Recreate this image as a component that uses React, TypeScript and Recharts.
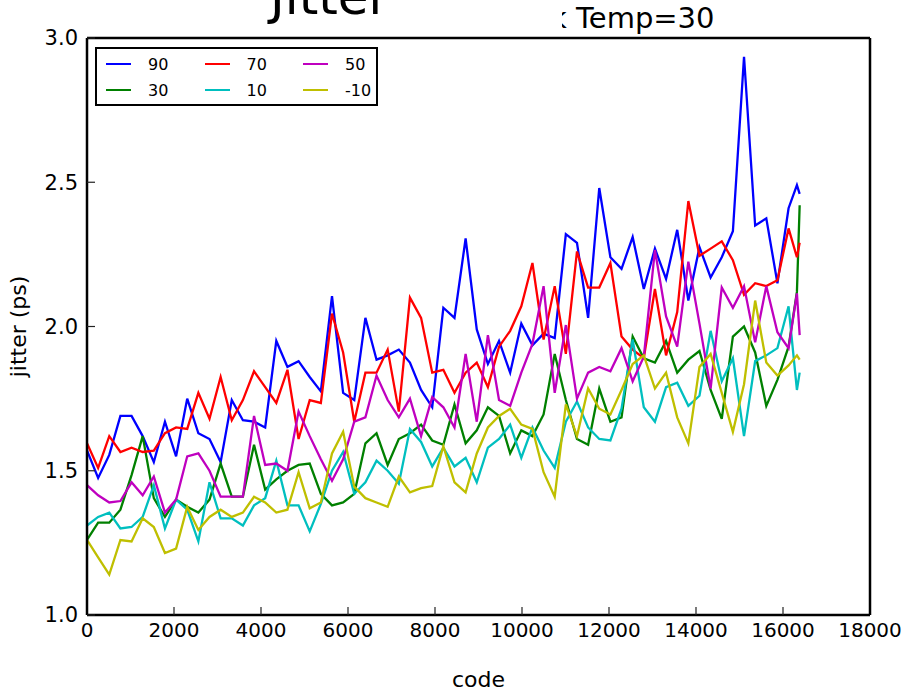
import { LineChart, Line, XAxis, YAxis, Legend } from "recharts";

// code values on the x axis
const codes = [
  0, 256, 512, 768, 1024, 1280, 1536, 1792, 2048, 2304, 2560, 2816, 3072,
  3328, 3584, 3840, 4096, 4352, 4608, 4864, 5120, 5376, 5632, 5888, 6144,
  6400, 6656, 6912, 7168, 7424, 7680, 7936, 8192, 8448, 8704, 8960, 9216,
  9472, 9728, 9984, 10240, 10496, 10752, 11008, 11264, 11520, 11776, 12032,
  12288, 12544, 12800, 13056, 13312, 13568, 13824, 14080, 14336, 14592,
  14848, 15104, 15360, 15616, 15872, 16128, 16320, 16383,
];

const temp90 = [
  1.57, 1.475, 1.555, 1.69, 1.69, 1.62, 1.53, 1.67, 1.55, 1.75,
  1.63, 1.61, 1.53, 1.745, 1.675, 1.67, 1.65, 1.95, 1.86, 1.88,
  1.825, 1.775, 2.105, 1.77, 1.745, 2.03, 1.885, 1.9, 1.92, 1.875,
  1.78, 1.72, 2.065, 2.03, 2.305, 1.99, 1.87, 1.95, 1.84, 2.01,
  1.935, 1.975, 1.96, 2.32, 2.29, 2.03, 2.48, 2.24, 2.2, 2.31,
  2.13, 2.27, 2.165, 2.335, 2.09, 2.275, 2.17, 2.24, 2.33, 2.935,
  2.35, 2.375, 2.15, 2.41, 2.49, 2.46,
];
const temp70 = [
  1.595, 1.51, 1.62, 1.565, 1.58, 1.565, 1.57, 1.63, 1.65, 1.645,
  1.77, 1.68, 1.825, 1.675, 1.745, 1.845, 1.79, 1.735, 1.85, 1.61,
  1.745, 1.735, 2.045, 1.91, 1.67, 1.84, 1.84, 1.92, 1.705, 2.1,
  2.03, 1.84, 1.85, 1.77, 1.84, 1.875, 1.79, 1.93, 1.985, 2.07,
  2.22, 1.955, 2.14, 1.905, 2.26, 2.135, 2.135, 2.22, 1.965, 1.92,
  1.89, 2.13, 1.9, 2.05, 2.435, 2.245, 2.27, 2.295, 2.23, 2.11,
  2.15, 2.14, 2.16, 2.34, 2.24, 2.29,
];
const temp50 = [
  1.45, 1.415, 1.39, 1.395, 1.46, 1.415, 1.48, 1.355, 1.4, 1.55,
  1.56, 1.5, 1.41, 1.41, 1.41, 1.69, 1.52, 1.525, 1.5, 1.705,
  1.62, 1.54, 1.465, 1.54, 1.67, 1.685, 1.83, 1.745, 1.685, 1.75,
  1.62, 1.755, 1.72, 1.65, 1.905, 1.67, 1.97, 1.745, 1.725, 1.84,
  1.94, 2.14, 1.77, 2.005, 1.75, 1.84, 1.86, 1.845, 1.925, 1.81,
  1.895, 2.265, 2.035, 1.93, 2.225, 2.01, 1.785, 2.135, 2.065, 2.14,
  1.945, 2.14, 1.98, 1.925, 2.115, 1.97,
];
const temp30 = [
  1.26, 1.32, 1.32, 1.365, 1.485, 1.62, 1.405, 1.34, 1.4, 1.375,
  1.355, 1.4, 1.525, 1.41, 1.41, 1.59, 1.435, 1.47, 1.5, 1.52,
  1.525, 1.42, 1.38, 1.39, 1.42, 1.595, 1.63, 1.52, 1.61, 1.63,
  1.66, 1.605, 1.59, 1.73, 1.595, 1.64, 1.72, 1.69, 1.56, 1.64,
  1.62, 1.695, 1.905, 1.745, 1.61, 1.59, 1.785, 1.67, 1.685, 1.965,
  1.89, 1.875, 1.95, 1.84, 1.885, 1.915, 1.78, 1.68, 1.965, 2.0,
  1.91, 1.725, 1.815, 1.93, 2.12, 2.42,
];
const temp10 = [
  1.31, 1.34, 1.355, 1.3, 1.305, 1.34, 1.45, 1.3, 1.4, 1.365,
  1.255, 1.46, 1.335, 1.335, 1.31, 1.38, 1.405, 1.535, 1.38, 1.38,
  1.29, 1.385, 1.5, 1.565, 1.42, 1.46, 1.535, 1.5, 1.455, 1.645,
  1.6, 1.515, 1.58, 1.515, 1.545, 1.46, 1.58, 1.61, 1.66, 1.545,
  1.65, 1.57, 1.51, 1.67, 1.74, 1.65, 1.61, 1.605, 1.715, 1.955,
  1.72, 1.67, 1.79, 1.805, 1.725, 1.76, 1.985, 1.81, 1.89, 1.62,
  1.88, 1.9, 1.925, 2.07, 1.78, 1.84,
];
const tempMinus10 = [
  1.26, 1.2, 1.14, 1.26, 1.255, 1.335, 1.305, 1.215, 1.23, 1.375,
  1.295, 1.34, 1.365, 1.34, 1.355, 1.41, 1.39, 1.355, 1.365, 1.495,
  1.37, 1.39, 1.56, 1.635, 1.445, 1.405, 1.39, 1.375, 1.48, 1.425,
  1.44, 1.447, 1.585, 1.46, 1.425, 1.56, 1.65, 1.69, 1.715, 1.66,
  1.645, 1.495, 1.41, 1.73, 1.62, 1.785, 1.715, 1.695, 1.78, 1.87,
  1.9, 1.785, 1.84, 1.685, 1.595, 1.86, 1.905, 1.77, 1.635, 1.8,
  2.09, 1.875, 1.83, 1.865, 1.9, 1.885,
];

const xTicks = [0, 2000, 4000, 6000, 8000, 10000, 12000, 14000, 16000, 18000];
const yTicks = [1.0, 1.5, 2.0, 2.5, 3.0];

// plot order (matplotlib fills legend column by column)
const series = [
  { key: "t90", name: "90", color: "#0000ff", values: temp90 },
  { key: "t30", name: "30", color: "#008000", values: temp30 },
  { key: "t70", name: "70", color: "#ff0000", values: temp70 },
  { key: "t10", name: "10", color: "#00bfbf", values: temp10 },
  { key: "t50", name: "50", color: "#bf00bf", values: temp50 },
  { key: "tm10", name: "-10", color: "#bfbf00", values: tempMinus10 },
];

// legend shown row by row
const legendRows = [
  ["t90", "t70", "t50"],
  ["t30", "t10", "tm10"],
];

const data = codes.map((code, i) => {
  const row: Record<string, number> = { code };
  series.forEach((s) => {
    row[s.key] = s.values[i];
  });
  return row;
});

const FONT = "'DejaVu Sans', sans-serif";

function LegendBox() {
  return (
    <div
      style={{
        width: 279,
        height: 55,
        border: "2px solid #000",
        background: "#fff",
        fontFamily: FONT,
        fontSize: 16,
        color: "#000",
        position: "relative",
      }}
    >
      {legendRows.map((row, r) =>
        row.map((key, c) => {
          const s = series.find((x) => x.key === key)!;
          return (
            <div
              key={key}
              style={{
                position: "absolute",
                left: 9 + c * 98.5,
                top: 5 + r * 26,
                height: 20,
                display: "flex",
                alignItems: "center",
              }}
            >
              <span
                style={{
                  display: "inline-block",
                  width: 25,
                  height: 2.5,
                  background: s.color,
                  marginRight: 17,
                }}
              />
              <span>{s.name}</span>
            </div>
          );
        })
      )}
    </div>
  );
}

export default function App() {
  return (
    <div
      style={{
        position: "absolute",
        left: 0,
        top: 0,
        width: 914,
        height: 691,
        background: "#fff",
        overflow: "hidden",
      }}
    >
      <div
        style={{
          position: "absolute",
          left: 270,
          top: -28,
          fontFamily: FONT,
          fontSize: 50,
          lineHeight: "50px",
          color: "#000",
        }}
      >
        Jitter
      </div>
      <div
        style={{
          position: "absolute",
          left: 562,
          top: 0,
          width: 180,
          height: 36,
          overflow: "hidden",
        }}
      >
        <div
          style={{
            position: "absolute",
            left: -12,
            top: 0,
            fontFamily: FONT,
            fontSize: 29,
            lineHeight: "36px",
            whiteSpace: "nowrap",
            color: "#000",
          }}
        >
          k Temp=30
        </div>
      </div>
      <LineChart
        width={914}
        height={691}
        data={data}
        margin={{ top: 0, right: 0, bottom: 0, left: 0 }}
      >
        <XAxis
          dataKey="code"
          type="number"
          domain={[0, 18000]}
          ticks={xTicks}
          allowDataOverflow
          height={76}
          axisLine={{ stroke: "#000", strokeWidth: 2.5 }}
          tickLine={{ stroke: "#222", strokeWidth: 1.2 }}
          tickSize={-8}
          tickMargin={16}
          tick={{ fill: "#000", fontSize: 20, fontFamily: FONT }}
          label={{
            value: "code",
            position: "insideBottom",
            offset: 4,
            fill: "#000",
            fontSize: 22,
            fontFamily: FONT,
          }}
        />
        <XAxis
          xAxisId="top"
          orientation="top"
          dataKey="code"
          type="number"
          domain={[0, 18000]}
          ticks={xTicks}
          allowDataOverflow
          height={38}
          axisLine={{ stroke: "#000", strokeWidth: 2.5 }}
          tickLine={{ stroke: "#222", strokeWidth: 1.2 }}
          tickSize={-8}
          tick={false}
        />
        <YAxis
          type="number"
          domain={[1, 3]}
          ticks={yTicks}
          allowDataOverflow
          width={87}
          axisLine={{ stroke: "#000", strokeWidth: 2.5 }}
          tickLine={{ stroke: "#222", strokeWidth: 1.2 }}
          tickSize={-8}
          tickMargin={17}
          tickFormatter={(v: number) => v.toFixed(1)}
          tick={{ fill: "#000", fontSize: 21, fontFamily: FONT }}
          label={{
            value: "jitter (ps)",
            angle: -90,
            position: "insideLeft",
            offset: 18,
            fill: "#000",
            fontSize: 22,
            fontFamily: FONT,
            style: { textAnchor: "middle" },
          }}
        />
        <YAxis
          yAxisId="right"
          orientation="right"
          type="number"
          domain={[1, 3]}
          ticks={yTicks}
          allowDataOverflow
          width={44}
          axisLine={{ stroke: "#000", strokeWidth: 2.5 }}
          tickLine={{ stroke: "#222", strokeWidth: 1.2 }}
          tickSize={-8}
          tick={false}
        />
        {series.map((s) => (
          <Line
            key={s.key}
            type="linear"
            dataKey={s.key}
            name={s.name}
            stroke={s.color}
            strokeWidth={2.3}
            dot={false}
            isAnimationActive={false}
          />
        ))}
        <Legend
          layout="horizontal"
          verticalAlign="middle"
          align="center"
          content={() => <LegendBox />}
          wrapperStyle={{ left: 95, top: 47, width: 283, height: 59 }}
        />
      </LineChart>
    </div>
  );
}
